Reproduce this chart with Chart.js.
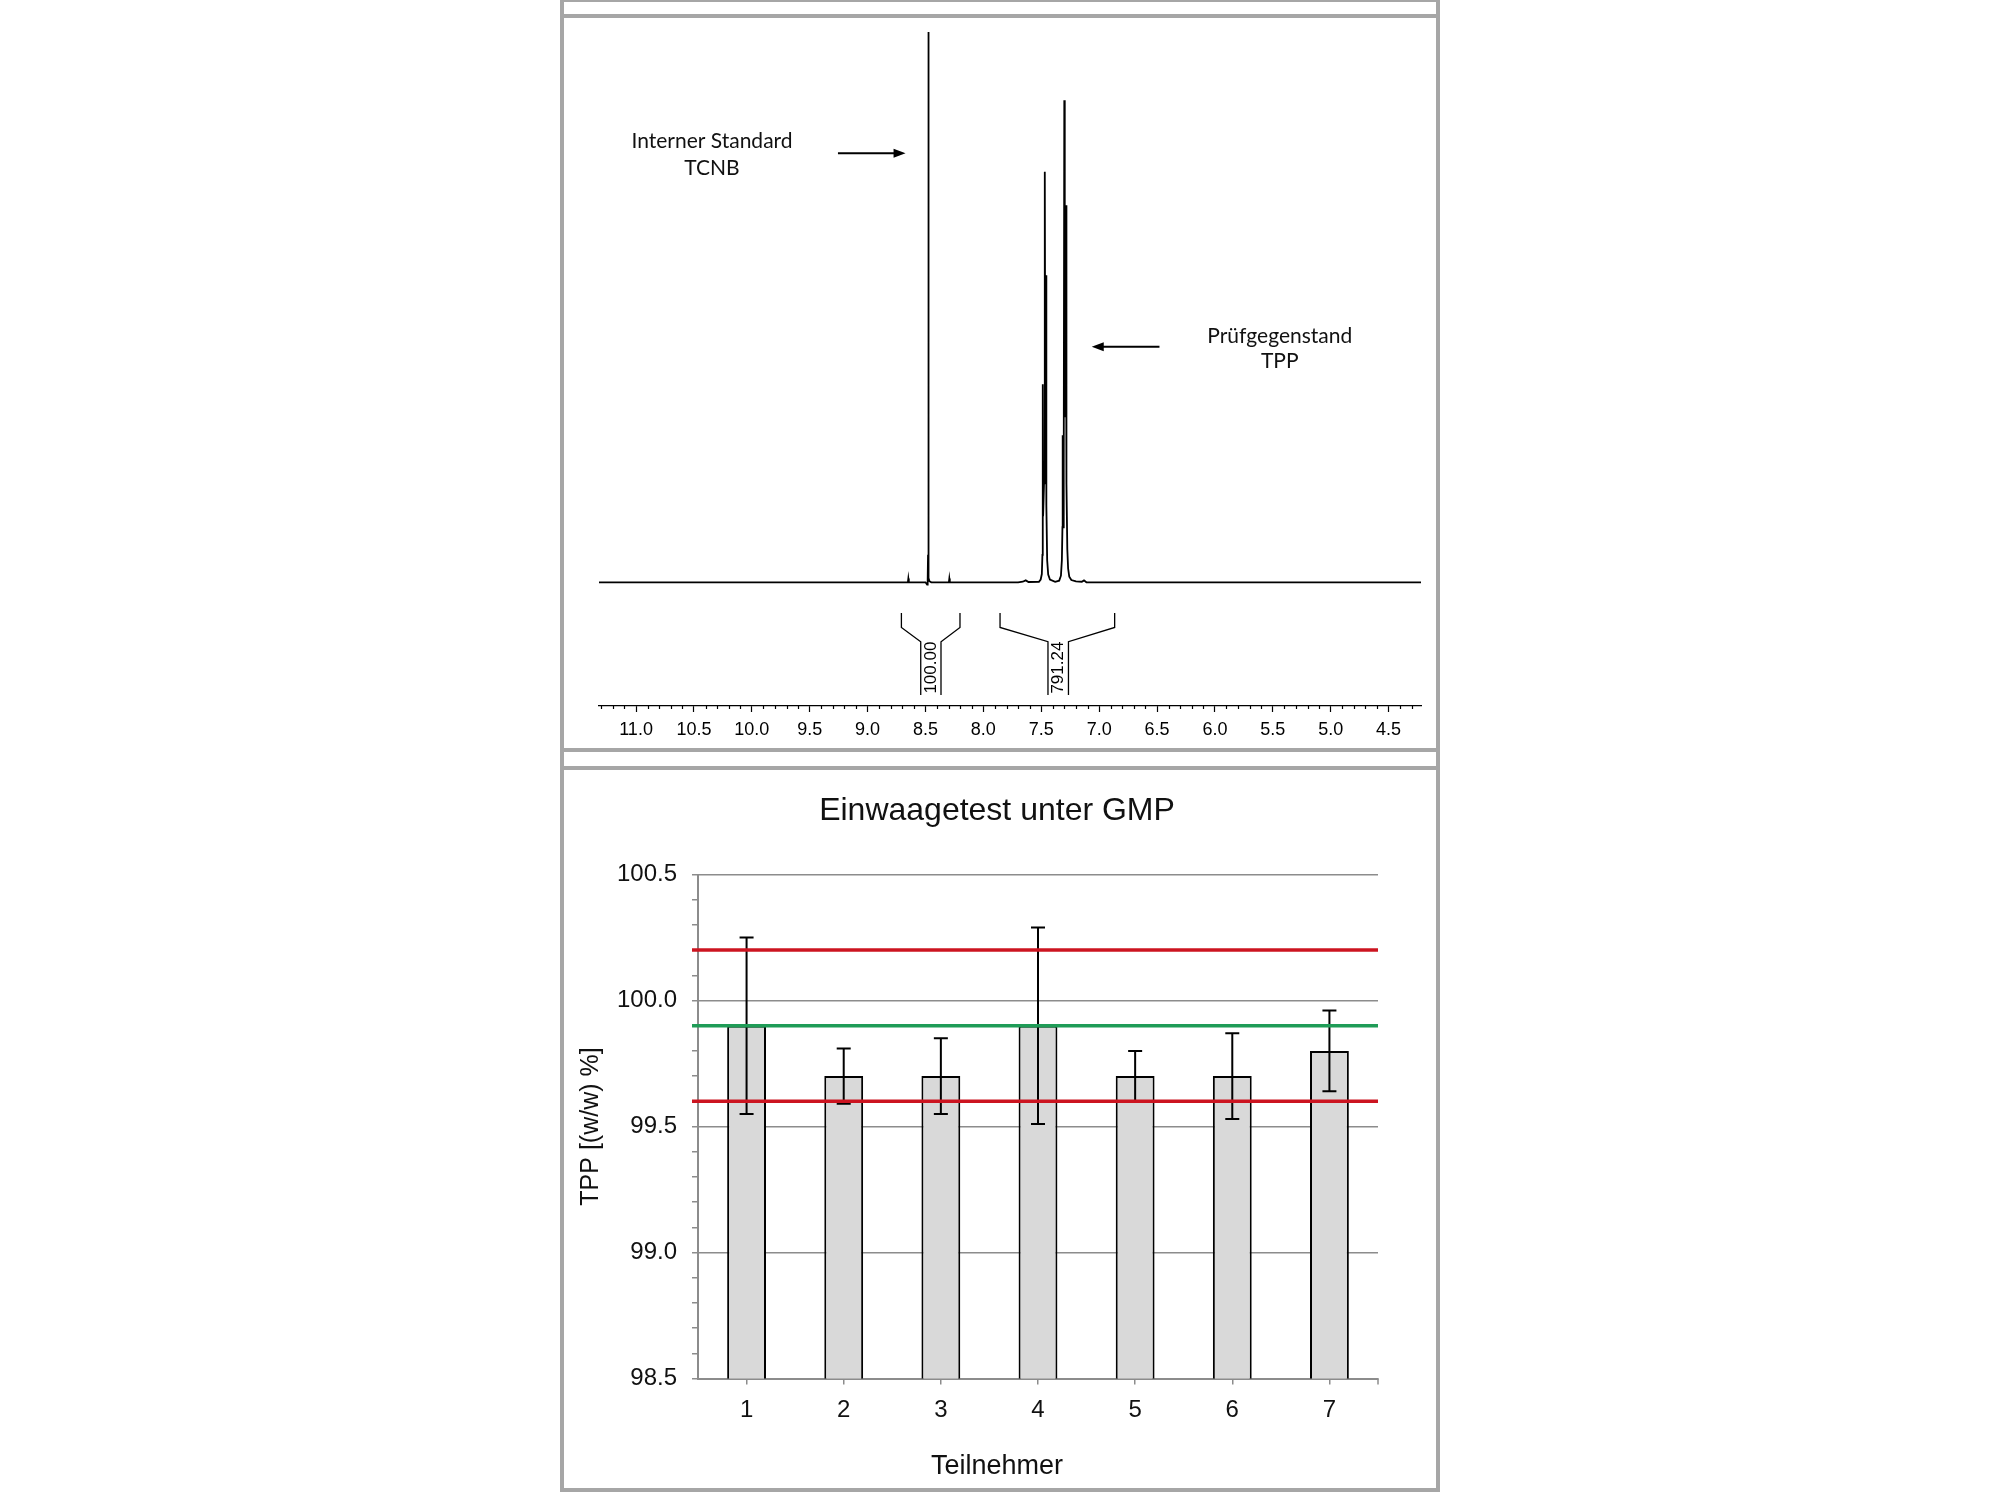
<!DOCTYPE html>
<html>
<head>
<meta charset="utf-8">
<script src="https://cdn.jsdelivr.net/npm/chart.js@4.4.1/dist/chart.umd.min.js"></script>
<style>
  html, body { margin: 0; padding: 0; background: #fff; }
  body { width: 2000px; height: 1500px; position: relative; overflow: hidden; }
  .rule { position: absolute; background: #a6a6a6; }
  .box { position: absolute; }
</style>
</head>
<body>
<!-- Rahmen der beiden Felder -->
<div class="rule" style="left:560px;top:0;width:4px;height:1492px"></div>
<div class="rule" style="left:1436px;top:0;width:4px;height:1492px"></div>
<div class="rule" style="left:560px;top:0;width:880px;height:2px"></div>
<div class="rule" style="left:560px;top:14px;width:880px;height:4px"></div>
<div class="rule" style="left:560px;top:748px;width:880px;height:4px"></div>
<div class="rule" style="left:560px;top:766px;width:880px;height:4px"></div>
<div class="rule" style="left:560px;top:1488px;width:880px;height:4px"></div>

<div class="box" style="left:564px;top:18px;width:872px;height:730px"><canvas id="nmrChart"></canvas></div>
<div class="box" style="left:564px;top:770px;width:872px;height:718px"><canvas id="barChart"></canvas></div>

<script>
// ---- 1H-NMR Spektrum: chemische Verschiebung [ppm] / rel. Intensitaet ----
const specPpm = [11.32, 8.70, 8.652, 8.648, 8.644, 8.50, 8.486, 8.481, 8.478, 8.476, 8.474, 8.471, 8.466, 8.45,
  8.298, 8.294, 8.290, 7.70, 7.66, 7.634, 7.61, 7.52, 7.505, 7.495, 7.490, 7.487, 7.484, 7.476, 7.471, 7.468,
  7.465, 7.461, 7.459, 7.456, 7.449, 7.44, 7.425, 7.38, 7.345, 7.33, 7.322, 7.317, 7.315, 7.312, 7.306, 7.301,
  7.297, 7.294, 7.292, 7.289, 7.286, 7.284, 7.281, 7.275, 7.268, 7.258, 7.24, 7.20, 7.15, 7.131, 7.11, 4.22];
const specInt = [0, 0, 0, 0.7, 0, 0, -0.4, 0.4, 5, 100, 5, 0.8, 0.2, 0,
  0, 0.7, 0, 0, 0.1, 0.35, 0.05, 0.1, 0.5, 1.5, 5, 36, 12, 18, 30, 74.6,
  30, 45, 55.8, 14, 4, 1.4, 0.5, 0.1, 0.3, 1.2, 4, 10, 26.7, 10, 20, 87.6,
  30, 40, 55.5, 30, 50, 68.5, 18, 6, 2.5, 1, 0.4, 0.15, 0.1, 0.35, 0, 0];
const shiftTicks = [11.0, 10.5, 10.0, 9.5, 9.0, 8.5, 8.0, 7.5, 7.0, 6.5, 6.0, 5.5, 5.0, 4.5];

// Integrationsbereiche (aussen / innen) und Integrale
const integralRanges = [[8.708, 8.202], [7.856, 6.866]];
const integralInner = [[8.541, 8.366], [7.442, 7.265]];
const integralValues = ['100.00', '791.24'];

// ---- Einwaagetest ----
const participants = ['1', '2', '3', '4', '5', '6', '7'];
const tppMeans = [99.9, 99.7, 99.7, 99.9, 99.7, 99.7, 99.8];
const tppErrors = [0.35, 0.11, 0.15, 0.39, 0.10, 0.17, 0.16];
const limitValues = [100.2, 99.6];
const targetValues = [99.9];
const yTickValues = [98.5, 99.0, 99.5, 100.0, 100.5];

const sansFont = '"Liberation Sans", Arial, sans-serif';
const labelFont = 'Lato, "Liberation Sans", sans-serif';
const isMajorShift = v => shiftTicks.some(t => Math.abs(t - v) < 1e-6);

// Klammern, Integralwerte, Pfeile und Beschriftung im Spektrum
const nmrExtras = {
    id: 'nmrExtras',
    afterDraw(chart) {
        const { ctx, scales: { x, y } } = chart;
        // Nebenstriche der Achse
        ctx.save();
        ctx.strokeStyle = '#000';
        ctx.lineWidth = 1.2;
        x.ticks.forEach(t => {
            if (isMajorShift(t.value)) return;
            const px = Math.round(x.getPixelForValue(t.value)) + 0.5;
            ctx.beginPath();
            ctx.moveTo(px, y.bottom);
            ctx.lineTo(px, y.bottom + 3);
            ctx.stroke();
        });

        // Integrationsklammern
        const levels = [-5.6, -8.2, -10.8, -20.5].map(v => y.getPixelForValue(v));
        ctx.lineWidth = 1.3;
        integralRanges.forEach((r, i) => {
            const inner = integralInner[i];
            [[r[0], inner[0]], [r[1], inner[1]]].forEach(([o, n]) => {
                const xo = x.getPixelForValue(o), xn = x.getPixelForValue(n);
                ctx.beginPath();
                ctx.moveTo(xo, levels[0]);
                ctx.lineTo(xo, levels[1]);
                ctx.lineTo(xn, levels[2]);
                ctx.lineTo(xn, levels[3]);
                ctx.stroke();
            });
            const xc = x.getPixelForValue((inner[0] + inner[1]) / 2);
            ctx.save();
            ctx.translate(xc, y.getPixelForValue(-15.5));
            ctx.rotate(-Math.PI / 2);
            ctx.font = '17px ' + sansFont;
            ctx.fillStyle = '#000';
            ctx.textAlign = 'center';
            ctx.textBaseline = 'middle';
            ctx.fillText(integralValues[i], 0, 0);
            ctx.restore();
        });

        // Pfeile
        const arrow = (fromPpm, toPpm, level) => {
            const x0 = x.getPixelForValue(fromPpm), x1 = x.getPixelForValue(toPpm);
            const py = y.getPixelForValue(level);
            const dir = Math.sign(x1 - x0);
            ctx.lineWidth = 2;
            ctx.beginPath();
            ctx.moveTo(x0, py);
            ctx.lineTo(x1 - dir * 8, py);
            ctx.stroke();
            ctx.beginPath();
            ctx.moveTo(x1, py);
            ctx.lineTo(x1 - dir * 12, py - 4.5);
            ctx.lineTo(x1 - dir * 12, py + 4.5);
            ctx.closePath();
            ctx.fillStyle = '#000';
            ctx.fill();
        };
        arrow(9.256, 8.672, 77.96);
        arrow(6.479, 7.064, 42.8);

        // Beschriftung
        ctx.font = '21px ' + labelFont;
        ctx.fillStyle = '#111';
        ctx.textAlign = 'center';
        ctx.textBaseline = 'alphabetic';
        const sx = x.getPixelForValue(10.344);
        ctx.fillText('Interner Standard', sx, y.getPixelForValue(78.87));
        ctx.fillText('TCNB', sx, y.getPixelForValue(74.0));
        const px2 = x.getPixelForValue(5.44);
        ctx.fillText('Prüfgegenstand', px2, y.getPixelForValue(43.54));
        ctx.fillText('TPP', px2, y.getPixelForValue(39.0));
        ctx.restore();
    }
};

const ctxNmr = document.getElementById('nmrChart').getContext('2d');
const nmrChart = new Chart(ctxNmr, {
    type: 'line',
    data: {
        datasets: [{
            data: specPpm.map((p, i) => ({ x: p, y: specInt[i] })),
            borderColor: '#000',
            borderWidth: 1.8,
            pointRadius: 0,
            tension: 0,
            fill: false,
            clip: false
        }]
    },
    options: {
        responsive: true,
        maintainAspectRatio: false,
        animation: false,
        layout: { padding: { left: 35, right: 15, top: 14, bottom: 0 } },
        plugins: { legend: { display: false }, tooltip: { enabled: false } },
        scales: {
            x: {
                type: 'linear',
                reverse: true,
                min: 4.22,
                max: 11.32,
                afterBuildTicks: s => {
                    const t = [];
                    for (let k = Math.ceil(s.min * 10 - 1e-9); k <= Math.floor(s.max * 10 + 1e-9); k++) t.push({ value: k / 10 });
                    s.ticks = t;
                },
                afterFit: s => { s.height = 42; },
                ticks: {
                    autoSkip: false,
                    maxRotation: 0,
                    padding: 7,
                    color: '#000',
                    font: { family: sansFont, size: 18 },
                    callback: v => isMajorShift(v) ? Number(v).toFixed(1) : ''
                },
                grid: {
                    drawOnChartArea: false,
                    tickLength: 6,
                    tickWidth: 1.2,
                    tickColor: c => isMajorShift(c.tick.value) ? '#000' : 'rgba(0,0,0,0)'
                },
                border: { display: true, color: '#000', width: 1.2 }
            },
            y: {
                display: false,
                min: -22.48,
                max: 100
            }
        }
    },
    plugins: [nmrExtras]
});

// Fehlerbalken, Grenzlinien, Titel
const barExtras = {
    id: 'barExtras',
    afterDatasetsDraw(chart) {
        const { ctx, chartArea, scales: { x, y } } = chart;
        const meta = chart.getDatasetMeta(0);
        ctx.save();
        ctx.strokeStyle = '#000';
        ctx.lineWidth = 2;
        meta.data.forEach((bar, i) => {
            const yt = y.getPixelForValue(tppMeans[i] + tppErrors[i]);
            const yb = y.getPixelForValue(tppMeans[i] - tppErrors[i]);
            ctx.beginPath();
            ctx.moveTo(bar.x, yt); ctx.lineTo(bar.x, yb);
            ctx.moveTo(bar.x - 7, yt); ctx.lineTo(bar.x + 7, yt);
            ctx.moveTo(bar.x - 7, yb); ctx.lineTo(bar.x + 7, yb);
            ctx.stroke();
        });
        ctx.lineWidth = 3.5;
        const hline = (v, color) => {
            const py = y.getPixelForValue(v);
            ctx.strokeStyle = color;
            ctx.beginPath();
            ctx.moveTo(chartArea.left - 6, py);
            ctx.lineTo(chartArea.right, py);
            ctx.stroke();
        };
        limitValues.forEach(v => hline(v, '#cc1420'));
        targetValues.forEach(v => hline(v, '#1f9c57'));

        // Endstrich der x-Achse
        ctx.strokeStyle = '#8c8c8c';
        ctx.lineWidth = 1.5;
        ctx.beginPath();
        ctx.moveTo(chartArea.right, chartArea.bottom);
        ctx.lineTo(chartArea.right, chartArea.bottom + 6);
        ctx.stroke();

        ctx.fillStyle = '#111';
        ctx.textAlign = 'center';
        ctx.textBaseline = 'middle';
        ctx.font = '32px ' + sansFont;
        ctx.fillText('Einwaagetest unter GMP', chart.width / 2 - 3, 41);
        ctx.font = '27px ' + sansFont;
        ctx.fillText('Teilnehmer', chart.width / 2 - 3, 697);
        ctx.restore();
    }
};

const ctxBar = document.getElementById('barChart').getContext('2d');
const barChart = new Chart(ctxBar, {
    type: 'bar',
    data: {
        labels: participants,
        datasets: [{
            data: tppMeans,
            backgroundColor: '#d9d9d9',
            borderColor: '#000',
            borderWidth: 2,
            categoryPercentage: 1,
            barPercentage: 0.4
        }]
    },
    options: {
        responsive: true,
        maintainAspectRatio: false,
        animation: false,
        layout: { padding: { left: 0, right: 58, top: 104.5, bottom: 0 } },
        plugins: { legend: { display: false }, tooltip: { enabled: false } },
        scales: {
            x: {
                afterFit: s => { s.height = 109.5; },
                ticks: { color: '#111', padding: 11, font: { family: sansFont, size: 24 } },
                grid: { offset: false, drawOnChartArea: false, tickLength: 6, color: '#8c8c8c', lineWidth: 1.5 },
                border: { color: '#8c8c8c', width: 2 }
            },
            y: {
                min: 98.5,
                max: 100.5,
                afterFit: s => { s.width = 134; },
                ticks: {
                    stepSize: 0.1,
                    autoSkip: false,
                    padding: 15,
                    color: '#111',
                    font: { family: sansFont, size: 24 },
                    callback: v => yTickValues.some(t => Math.abs(t - v) < 1e-6) ? Number(v).toFixed(1) : ''
                },
                grid: {
                    tickLength: 6,
                    lineWidth: 1.5,
                    tickColor: '#8c8c8c',
                    color: c => yTickValues.some(t => Math.abs(t - c.tick.value) < 1e-6) ? '#8c8c8c' : 'rgba(0,0,0,0)'
                },
                border: { color: '#8c8c8c', width: 2 },
                title: {
                    display: true,
                    text: 'TPP [(w/w) %]',
                    color: '#111',
                    font: { family: sansFont, size: 25 },
                    padding: { top: 12, bottom: 0 }
                }
            }
        }
    },
    plugins: [barExtras]
});
</script>
</body>
</html>
